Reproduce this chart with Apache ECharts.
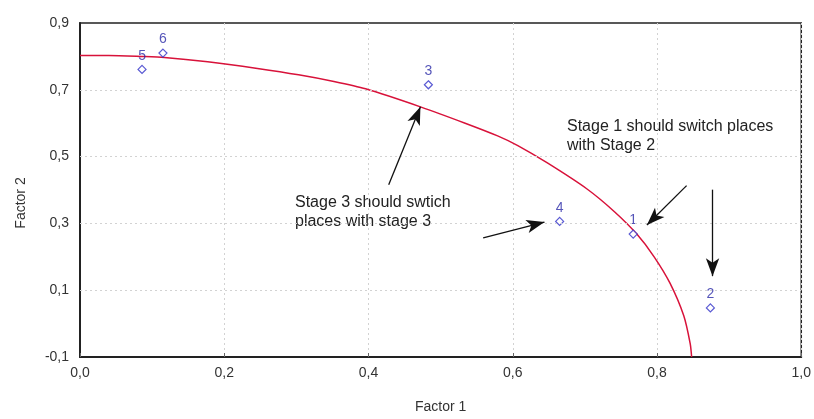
<!DOCTYPE html>
<html>
<head>
<meta charset="utf-8">
<script src="https://cdn.jsdelivr.net/npm/echarts@6/dist/echarts.min.js"></script>
<style>
html,body{margin:0;padding:0;background:#fff;}
#chart{width:814px;height:419px;}
</style>
</head>
<body>
<div id="chart"></div>
<script>
// Stage points (Factor 1, Factor 2)
const stageNames = ['1', '2', '3', '4', '5', '6'];
const factor1 = [0.767, 0.874, 0.483, 0.665, 0.086, 0.115];
const factor2 = [0.268, 0.047, 0.715, 0.306, 0.761, 0.810];

// Red curve
const curveX = [0.000, 0.040, 0.086, 0.117, 0.177, 0.246, 0.303, 0.352, 0.396, 0.472, 0.534, 0.579, 0.607, 0.648, 0.703, 0.741, 0.772, 0.796, 0.818, 0.837, 0.846, 0.848];
const curveY = [0.803, 0.803, 0.800, 0.797, 0.784, 0.764, 0.745, 0.725, 0.703, 0.649, 0.600, 0.562, 0.533, 0.481, 0.403, 0.335, 0.268, 0.200, 0.121, 0.024, -0.060, -0.100];

// Axis ticks
const xTicks = [0.0, 0.2, 0.4, 0.6, 0.8, 1.0];
const yTicks = [-0.1, 0.1, 0.3, 0.5, 0.7, 0.9];

// Annotation arrows [fromX, fromY] -> [toX, toY] in data units
const arrowFrom = [[0.428, 0.416], [0.559, 0.257], [0.841, 0.413], [0.877, 0.401]];
const arrowTo   = [[0.472, 0.649], [0.644, 0.304], [0.786, 0.295], [0.877, 0.142]];

const note1 = 'Stage 3 should swtich\nplaces with stage 3';
const note2 = 'Stage 1 should switch places\nwith Stage 2';

const fmt = v => (Math.round(v * 10) / 10).toFixed(1).replace('.', ',');
const FONT = 'Liberation Sans, Arial, sans-serif';

const chart = echarts.init(document.getElementById('chart'));
const gridStyle = { color: '#d2d2d2', type: [2, 3], width: 1 };

chart.setOption({
  animation: false,
  backgroundColor: '#fff',
  grid: { left: 80, right: 8, top: 23, bottom: 57, show: true, borderColor: '#222', borderWidth: 1.5 },
  xAxis: {
    type: 'value', min: xTicks[0], max: xTicks[xTicks.length - 1], interval: 0.2,
    name: 'Factor 1', nameLocation: 'middle', nameGap: 43,
    nameTextStyle: { fontFamily: FONT, fontSize: 14, color: '#333' },
    axisLine: { show: true, onZero: false, lineStyle: { color: '#222', width: 2 } },
    axisTick: { show: true, inside: true, length: 4, lineStyle: { color: '#666' } },
    axisLabel: { fontFamily: FONT, fontSize: 14, color: '#333', margin: 9, formatter: fmt },
    splitLine: { show: true, lineStyle: gridStyle }
  },
  yAxis: {
    type: 'value', min: yTicks[0], max: yTicks[yTicks.length - 1], interval: 0.1,
    name: 'Factor 2', nameLocation: 'middle', nameGap: 52, nameRotate: 90,
    nameTextStyle: { fontFamily: FONT, fontSize: 14, color: '#333', padding: [0, 0, 0, -26] },
    axisLine: { show: true, onZero: false, lineStyle: { color: '#222', width: 2 } },
    axisTick: { show: false },
    axisLabel: {
      fontFamily: FONT, fontSize: 14, color: '#333', margin: 11,
      formatter: v => (yTicks.some(t => Math.abs(t - v) < 1e-6) ? fmt(v) : '')
    },
    splitLine: { show: false }
  },
  series: [
    {
      type: 'line', name: 'curve', smooth: 0.25, showSymbol: false, silent: true,
      data: curveX.map((x, i) => [x, curveY[i]]),
      lineStyle: { color: '#d8123a', width: 1.5 },
      markLine: {
        silent: true, symbol: ['none', 'none'], label: { show: false },
        lineStyle: gridStyle,
        data: yTicks.slice(1, -1).map(v => ({ yAxis: v }))
      },
      z: 3
    },
    {
      type: 'scatter', name: 'stages', symbol: 'diamond', symbolSize: [8, 8],
      data: factor1.map((x, i) => ({ value: [x, factor2[i]], name: stageNames[i] })),
      itemStyle: { color: '#fff', borderColor: '#3030c8', borderWidth: 1.2 },
      label: { show: true, position: 'top', distance: 2, formatter: p => p.name,
               fontFamily: FONT, fontSize: 14, color: '#2a2aa8' },
      z: 4
    },
    {
      type: 'line', name: 'arrows', data: [], silent: true,
      markLine: {
        silent: true, symbol: ['none', 'arrow'], symbolSize: [10, 18], label: { show: false },
        lineStyle: { color: '#111', width: 1.3, type: 'solid' },
        data: arrowFrom.map((f, i) => [{ coord: f }, { coord: arrowTo[i] }])
      },
      z: 5
    }
  ],
  graphic: [
    { type: 'text', left: 295, top: 193, style: { text: note1, fontFamily: FONT, fontSize: 16, lineHeight: 19, fill: '#222' } },
    { type: 'text', left: 567, top: 117, style: { text: note2, fontFamily: FONT, fontSize: 16, lineHeight: 19, fill: '#222' } }
  ]
});
</script>
</body>
</html>
